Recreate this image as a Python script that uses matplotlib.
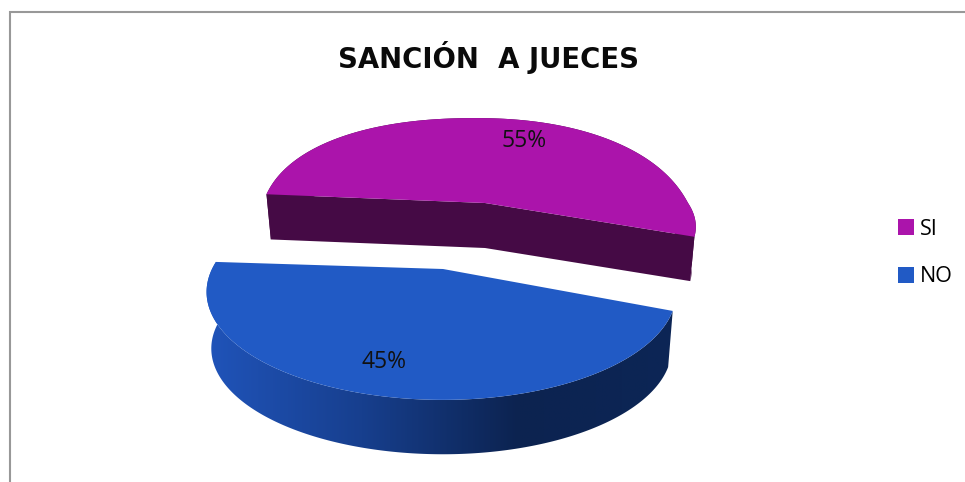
import numpy as np
import matplotlib
matplotlib.use("Agg")
import matplotlib.pyplot as plt
from matplotlib.patches import Polygon, Rectangle
from matplotlib.colors import LinearSegmentedColormap

categories = ["SI", "NO"]
values = [55, 45]
colors = ["#AB14AB", "#215AC5"]
title = "SANCIÓN  A JUECES"

# first slice boundary, degrees clockwise on screen
start_angle = 184.0
persp = 0.213
shrink = 0.98

W, H = 965, 482
fig = plt.figure(figsize=(W / 100, H / 100), dpi=100)
ax = fig.add_axes([0, 0, 1, 1])
ax.set_xlim(0, W)
ax.set_ylim(H, 0)
ax.axis("off")


def project(t, cx, cy, a, b, skew=0, q=1.0):
    # circle in the pie plane -> screen, nearer points come out larger
    # a = (left, right) and b = (back, front) half widths, q < 1 squares off the back edge
    c = np.cos(t)
    d = np.sin(t)
    e = np.where(d < 0, q, 1.0)
    X = np.sign(c) * np.abs(c) ** e
    Y = np.sign(d) * np.abs(d) ** e
    s = 1 / (1 - persp * Y)
    sx = cx + np.where(X < 0, a[0], a[1]) * X * s + skew * Y * s
    sy = cy + np.where(Y < 0, b[0], b[1]) * Y * s
    return sx, sy


def lower(x, y, cx, cy, depth):
    # same outline on the underside of the slice
    return cx + (x - cx) * shrink, cy + (y - cy) * shrink + depth


def slice_angles(i):
    t0 = start_angle + 3.6 * sum(values[:i])
    t1 = t0 + 3.6 * values[i]
    return np.radians(np.linspace(t0, t1, 240))


# frame, top and left sides only
ax.plot([10, 10, W], [H, 12, 12], color="#989898", lw=1.5, solid_joinstyle="miter")

# SI slice, pushed back
cx, cy, depth = 485, 203, 45
t = slice_angles(0)
x, y = project(t, cx, cy, (222, 203), (103, 83), skew=12, q=0.92)
xb, yb = lower(x, y, cx, cy, depth)
apex_b = lower(cx, cy, cx, cy, depth)
dark = "#450A45"
ax.add_patch(Polygon(np.c_[np.r_[x, xb[::-1]], np.r_[y, yb[::-1]]], fc=dark, ec="none"))
ax.add_patch(Polygon([(x[0], y[0]), (cx, cy), apex_b, (xb[0], yb[0])], fc=dark, ec="none"))
ax.add_patch(Polygon([(x[-1], y[-1]), (cx, cy), apex_b, (xb[-1], yb[-1])], fc=dark, ec="none"))
ax.add_patch(Polygon(np.c_[np.r_[cx, x], np.r_[cy, y]], fc=colors[0], ec="none"))

# NO slice, pulled forward, its wall shaded left to right
cx, cy, depth = 443, 269, 57
t = slice_angles(1)
x, y = project(t, cx, cy, (231, 228), (103, 103))
xb, yb = lower(x, y, cx, cy, depth)
wall = Polygon(np.c_[np.r_[x, xb[::-1]], np.r_[y, yb[::-1]]], fc="none", ec="none")
ax.add_patch(wall)
shade = LinearSegmentedColormap.from_list("wall", ["#2054BA", "#173F8E", "#0C2350", "#0C2656"])
im = ax.imshow(np.linspace(0, 1, 256)[None, :], cmap=shade, extent=[205, 675, 460, 250],
               aspect="auto", zorder=1)
im.set_clip_path(wall)
ax.set_xlim(0, W)
ax.set_ylim(H, 0)
ax.add_patch(Polygon(np.c_[np.r_[cx, x], np.r_[cy, y]], fc=colors[1], ec="none", zorder=2))

# value labels
ax.text(524, 141, "%d%%" % values[0], fontsize=16.5, family="Open Sans", color="#111111",
        ha="center", va="center", zorder=3)
ax.text(384, 362, "%d%%" % values[1], fontsize=16.5, family="Open Sans", color="#111111",
        ha="center", va="center", zorder=3)

ax.text(489, 58, title, fontsize=19.8, family="DejaVu Sans", fontweight="bold", color="#0A0A0A",
        ha="center", va="center")

handles = [Rectangle((0, 0), 1, 1, fc=c, ec="none") for c in colors]
ax.legend(handles, categories, loc="center left", bbox_to_anchor=(898 / W, 1 - 253 / H),
          frameon=False, handlelength=0.75, handleheight=0.75, handletextpad=0.25,
          labelspacing=1.25, prop={"family": "Open Sans", "size": 15.5}, borderpad=0, borderaxespad=0)

fig.savefig("out.png", dpi=100)
